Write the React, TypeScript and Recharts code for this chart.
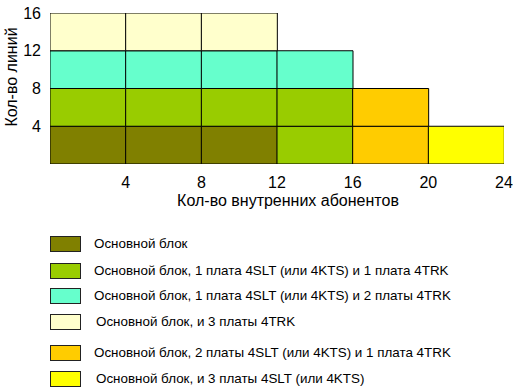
import React from 'react';
import { BarChart, Bar, XAxis, YAxis, Cell } from 'recharts';

// Column ranges (internal subscribers)
const colStart = [0, 4, 8, 12, 16, 20];
const colEnd = [4, 8, 12, 16, 20, 24];
// Lines per row band (each row adds 4 lines)
const row1 = [4, 4, 4, 4, 4, 4];
const row2 = [4, 4, 4, 4, 4, null];
const row3 = [4, 4, 4, 4, null, null];
const row4 = [4, 4, 4, null, null, null];
// Configuration index of each cell (index into legendLabels / configColors)
const row1Config = [0, 0, 0, 1, 4, 5];
const row2Config = [1, 1, 1, 1, 4, 4];
const row3Config = [2, 2, 2, 2, 2, 2];
const row4Config = [3, 3, 3, 3, 3, 3];

const xTicks = [4, 8, 12, 16, 20, 24];
const yTicks = [4, 8, 12, 16];

const legendLabels = [
  'Основной блок',
  'Основной блок, 1 плата 4SLT (или 4KTS) и 1 плата 4TRK',
  'Основной блок, 1 плата 4SLT (или 4KTS) и 2 платы 4TRK',
  'Основной блок, и 3 платы 4TRK',
  'Основной блок, 2 платы 4SLT (или 4KTS) и 1 плата 4TRK',
  'Основной блок, и 3 платы 4SLT (или 4KTS)',
];
const configColors = ['#808000', '#99CC00', '#66FFCC', '#FFFFCC', '#FFCC00', '#FFFF00'];

const data = colStart.map((s, i) => ({
  center: (s + colEnd[i]) / 2,
  r1: row1[i],
  r2: row2[i],
  r3: row3[i],
  r4: row4[i],
}));

const rows = [
  { key: 'r1', cfg: row1Config },
  { key: 'r2', cfg: row2Config },
  { key: 'r3', cfg: row3Config },
  { key: 'r4', cfg: row4Config },
];

const FONT = '"Liberation Sans", Arial, sans-serif';
const legendTops = [236, 263, 288, 314, 345, 371];
const legendTextLeft = [94, 94, 94, 96, 94, 96];

export default function App() {
  return (
    <div style={{ position: 'absolute', left: 0, top: 0, width: 513, height: 388, background: '#fff', fontFamily: FONT }}>
      <BarChart
        width={513}
        height={388}
        data={data}
        margin={{ top: 13, right: 9, left: 0, bottom: 179 }}
        barCategoryGap={0}
        barGap={0}
      >
        <XAxis
          dataKey="center"
          type="number"
          domain={[0, 24]}
          ticks={xTicks}
          allowDataOverflow
          axisLine={false}
          tickLine={false}
          tickMargin={7}
          height={45}
          tick={{ fill: '#000', fontSize: 16, fontFamily: FONT }}
        />
        <YAxis
          type="number"
          domain={[0, 16]}
          ticks={yTicks}
          allowDataOverflow
          axisLine={false}
          tickLine={false}
          tickMargin={3}
          width={50}
          tick={{ fill: '#000', fontSize: 16, fontFamily: FONT }}
        />
        {rows.map((r) => (
          <Bar
            key={r.key}
            dataKey={r.key}
            stackId="s"
            stroke="#000"
            strokeWidth={1}
            isAnimationActive={false}
          >
            {data.map((d, i) => (
              <Cell key={i} fill={configColors[r.cfg[i]]} />
            ))}
          </Bar>
        ))}
        <text
          x={17}
          y={77}
          textAnchor="middle"
          transform="rotate(-90, 17, 77)"
          fontSize={16}
          fontFamily={FONT}
          fill="#000"
        >
          Кол-во линий
        </text>
        <text x={288} y={206} textAnchor="middle" fontSize={16} fontFamily={FONT} fill="#000">
          Кол-во внутренних абонентов
        </text>
      </BarChart>
      {legendLabels.map((label, i) => (
        <div key={i}>
          <div
            style={{
              position: 'absolute',
              left: 50,
              top: legendTops[i],
              width: 31,
              height: 16,
              boxSizing: 'border-box',
              border: '1px solid #222',
              background: configColors[i],
            }}
          />
          <div
            style={{
              position: 'absolute',
              left: legendTextLeft[i],
              top: legendTops[i],
              height: 16,
              lineHeight: '16px',
              fontSize: 13.4,
              color: '#000',
              whiteSpace: 'nowrap',
            }}
          >
            {label}
          </div>
        </div>
      ))}
    </div>
  );
}
